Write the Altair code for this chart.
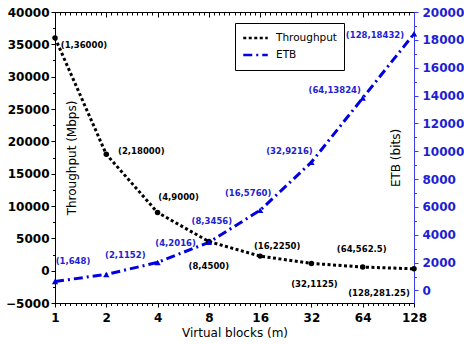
import altair as alt
import pandas as pd

# ---- data ----
blocks = [1, 2, 4, 8, 16, 32, 64, 128]
throughput = [36000, 18000, 9000, 4500, 2250, 1125, 562.5, 281.25]
etb = [648, 1152, 2016, 3456, 5760, 9216, 13824, 18432]

x_ticks = [1, 2, 4, 8, 16, 32, 64, 128]
left_ticks = list(range(-5000, 40001, 5000))
left_minor = list(range(-2500, 40000, 5000))
right_ticks = list(range(0, 20001, 2000))
right_minor = list(range(1000, 20000, 2000))
x_minor = [2 ** (n + k / 10) for n in range(7) for k in range(1, 10)]

# label offsets (dx, dy) in pixels -- styling only
tp_off = [(29, 7), (35, -3), (21, -15), (0, 24), (17, -10), (3, 21), (-1, -18), (-35, 24)]
etb_off = [(18, -20), (19, -19), (18, -19), (3, -21), (-12, -17), (-22, -11), (-28, -8), (-39, 1)]

BLUE = "#0000e0"
BLUE_TXT = "#1e1ed2"

tp_df = pd.DataFrame({"m": blocks, "v": throughput, "series": "Throughput"})
tp_df["label"] = [f"({m},{v:g})" for m, v in zip(blocks, throughput)]
etb_df = pd.DataFrame({"m": blocks, "v": etb, "series": "ETB"})
etb_df["label"] = [f"({m},{v:g})" for m, v in zip(blocks, etb)]

xs = alt.Scale(type="log", base=2, domain=[1, 128], nice=False)
ys_l = alt.Scale(domain=[-5000, 40000], nice=False, zero=False)
ys_r = alt.Scale(domain=[-900, 20000], nice=False, zero=False)

color_scale = alt.Scale(domain=["Throughput", "ETB"], range=["black", BLUE])
dash_scale = alt.Scale(domain=["Throughput", "ETB"], range=[[3, 2.5], [9, 4, 2, 4]])

legend = alt.Legend(
    title=None, orient="none", legendX=180, legendY=11,
    strokeColor="black", fillColor="white", padding=7, cornerRadius=0,
    labelFont="DejaVu Sans", labelFontSize=10.5, labelColor="black",
    symbolType="stroke", symbolSize=600, symbolStrokeWidth=2.5,
    clipHeight=16, rowPadding=1, labelOffset=7,
)

xn = alt.X("m:Q", scale=xs, axis=None)

tp_line = alt.Chart(tp_df).mark_line(strokeWidth=3, strokeCap="butt").encode(
    x=alt.X("m:Q", scale=xs, axis=alt.Axis(
        values=x_ticks, title="Virtual blocks (m)", tickSize=4, labelPadding=5,
        titlePadding=4, domain=True, labelFlush=False, format="d")),
    y=alt.Y("v:Q", scale=ys_l, axis=alt.Axis(
        orient="left", values=left_ticks, title="Throughput (Mbps)", tickSize=4,
        labelPadding=2, titleX=16, titleBaseline="middle", titleAngle=270,
        labelFlush=False, format="d")),
    color=alt.Color("series:N", scale=color_scale, legend=legend),
    strokeDash=alt.StrokeDash("series:N", scale=dash_scale, legend=legend),
)

tp_pts = alt.Chart(tp_df).mark_point(filled=True, shape="circle", size=30, color="black", opacity=1).encode(
    x=xn, y=alt.Y("v:Q", scale=ys_l, axis=None))

etb_line = alt.Chart(etb_df).mark_line(strokeWidth=3, strokeCap="butt").encode(
    x=xn,
    y=alt.Y("v:Q", scale=ys_r, axis=alt.Axis(
        orient="right", values=right_ticks, title="ETB (bits)", tickSize=4,
        labelPadding=4, titleX=-19, titleBaseline="middle", titleAngle=270,
        labelColor=BLUE_TXT, domainColor="#3c3cf0", tickColor="#3c3cf0",
        labelFlush=False, format="d")),
    color=alt.Color("series:N", scale=color_scale, legend=legend),
    strokeDash=alt.StrokeDash("series:N", scale=dash_scale, legend=legend),
)

etb_pts = alt.Chart(etb_df).mark_point(filled=True, shape="triangle-up", size=40, color=BLUE, opacity=1).encode(
    x=xn, y=alt.Y("v:Q", scale=ys_r, axis=None))

texts = []
for i in range(len(blocks)):
    dx, dy = tp_off[i]
    texts.append(alt.Chart(tp_df.iloc[[i]]).mark_text(
        dx=dx, dy=dy, font="DejaVu Sans", fontWeight="bold", fontSize=8.5,
        color="black", align="center", baseline="middle").encode(
        x=xn, y=alt.Y("v:Q", scale=ys_l, axis=None), text="label:N"))
    dx, dy = etb_off[i]
    texts.append(alt.Chart(etb_df.iloc[[i]]).mark_text(
        dx=dx, dy=dy, font="DejaVu Sans", fontWeight="bold", fontSize=8.5,
        color=BLUE_TXT, align="center", baseline="middle").encode(
        x=xn, y=alt.Y("v:Q", scale=ys_r, axis=None), text="label:N"))

# extra tick layers (minor ticks and mirrored top ticks)
def tick_layer(xaxis, yaxis, yscale):
    return alt.Chart(tp_df).mark_point(opacity=0).encode(
        x=alt.X("m:Q", scale=xs, axis=xaxis),
        y=alt.Y("v:Q", scale=yscale, axis=yaxis))

top_major = tick_layer(alt.Axis(orient="top", values=x_ticks, labels=False, domain=False,
                                tickSize=5, offset=-5, title=None), None, ys_l)
top_minor = tick_layer(alt.Axis(orient="top", values=x_minor, labels=False, domain=False,
                                tickSize=3, offset=-3, title=None), None, ys_l)
bot_minor = tick_layer(alt.Axis(orient="bottom", values=x_minor, labels=False, domain=False,
                                tickSize=2.5, title=None), None, ys_l)
left_min = tick_layer(None, alt.Axis(orient="left", values=left_minor, labels=False, domain=False,
                                     tickSize=2.5, title=None), ys_l)
right_min = tick_layer(None, alt.Axis(orient="right", values=right_minor, labels=False, domain=False,
                                      tickSize=2.5, title=None, tickColor="#3c3cf0"), ys_r)

chart = alt.layer(
    top_major, top_minor, bot_minor, left_min, right_min,
    tp_line, etb_line, tp_pts, etb_pts, *texts
).resolve_scale(y="independent").resolve_axis(x="independent").properties(
    width=359, height=291,
    autosize=alt.AutoSizeParams(type="none"),
    padding={"left": 55, "top": 12, "right": 50, "bottom": 41},
).configure_view(stroke="black", strokeWidth=1).configure_axis(
    grid=False, labelFont="DejaVu Sans", labelFontWeight="bold", labelFontSize=12,
    titleFont="DejaVu Sans", titleFontWeight="normal", titleFontSize=12,
    domainColor="black", tickColor="black", labelColor="black", titleColor="black",
)

chart.save("out.html", embed_options={"renderer": "svg", "actions": False})
